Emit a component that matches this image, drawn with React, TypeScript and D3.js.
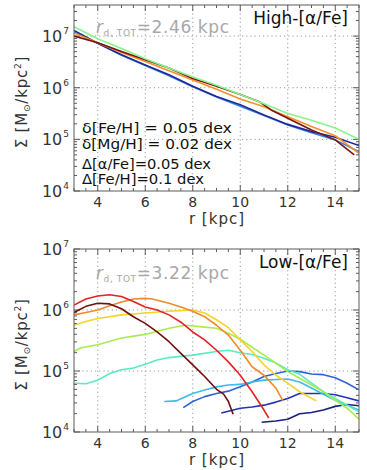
import React from 'react';
import * as d3 from 'd3';

const W = 367;
const H = 470;
const FONT = 'DejaVu Sans, Liberation Sans, sans-serif';

const R_DOMAIN: [number, number] = [3, 15];
const R_TICKS = [4, 6, 8, 10, 12, 14];
const R_MINOR = d3.range(3, 15.01, 0.5);

// ---- High-[α/Fe] panel, log10 Σ vs r
const HIGH_R = [3, 4, 5, 6, 7, 8, 9, 10, 11, 12, 13, 14, 15];
const highGreen = [7.18, 6.95, 6.76, 6.56, 6.38, 6.21, 6.05, 5.87, 5.69, 5.5, 5.37, 5.22, 5.0];
const highDarkBlue = [7.11, 6.86, 6.64, 6.44, 6.25, 6.03, 5.83, 5.67, 5.47, 5.29, 5.15, 5.04, 4.88];
const highBlue = [7.08, 6.86, 6.63, 6.43, 6.23, 6.02, 5.82, 5.64, 5.46, 5.28, 5.13, 4.99, 4.76];
const highOrange = [7.06, 6.87, 6.68, 6.51, 6.33, 6.15, 5.97, 5.78, 5.63, 5.44, 5.25, 5.07, 4.73];
const MAROON_R = [3, 4, 5, 6, 7, 8, 9, 10, 10.8, 11.3, 12, 13, 14, 14.8];
const highMaroon = [7.0, 6.87, 6.7, 6.54, 6.38, 6.18, 6.03, 5.87, 5.73, 5.57, 5.41, 5.18, 4.99, 4.7];

// ---- Low-[α/Fe] panel
const lowMaroonR = [3, 3.5, 4, 4.5, 5, 5.5, 6, 6.5, 7, 7.5, 8, 8.5, 9, 9.3, 9.5, 9.7];
const lowMaroon = [5.96, 6.06, 6.11, 6.1, 6.02, 5.89, 5.78, 5.64, 5.48, 5.29, 5.1, 4.91, 4.7, 4.62, 4.5, 4.29];
const lowRedR = [3, 3.5, 4, 4.5, 5, 5.5, 6, 6.5, 7, 7.5, 8, 8.5, 9, 9.5, 10, 10.5, 11, 11.2];
const lowRed = [6.08, 6.18, 6.23, 6.25, 6.22, 6.14, 6.05, 6.0, 5.92, 5.8, 5.64, 5.51, 5.34, 5.15, 4.93, 4.66, 4.36, 4.23];
const lowOrangeR = [3, 3.5, 4, 4.5, 5, 5.5, 6, 6.3, 7, 7.5, 8, 8.5, 9, 9.5, 10, 10.5, 11, 11.5, 11.8];
const lowOrange = [5.92, 5.96, 6.0, 6.07, 6.13, 6.18, 6.19, 6.18, 6.11, 6.05, 5.98, 5.89, 5.75, 5.59, 5.34, 5.07, 4.93, 4.72, 4.51];
const lowYellowR = [3, 3.5, 4, 5, 6, 7, 8, 8.5, 9, 9.5, 10, 10.5, 11, 11.5, 12, 12.5, 13.2];
const lowYellow = [5.75, 5.81, 5.86, 5.92, 5.95, 5.98, 6.0, 5.95, 5.84, 5.71, 5.51, 5.32, 5.1, 4.93, 4.8, 4.66, 4.51];
const lowLimeR = [3, 3.3, 4, 5, 6, 7, 7.7, 8.5, 9, 9.5, 10, 10.5, 11, 11.5, 12, 12.5, 13, 13.5, 14, 14.5, 15];
const lowLime = [5.32, 5.38, 5.43, 5.54, 5.6, 5.7, 5.75, 5.72, 5.7, 5.62, 5.52, 5.39, 5.26, 5.13, 4.99, 4.88, 4.77, 4.66, 4.52, 4.39, 4.21];
const lowAquaR = [3, 3.5, 4, 4.5, 5, 5.5, 6, 6.5, 7, 8, 9, 9.5, 10, 10.5, 11, 11.5, 12, 12.5, 13, 13.5, 14, 14.5, 15];
const lowAqua = [4.8, 4.79, 4.85, 4.96, 5.02, 5.05, 5.11, 5.18, 5.22, 5.26, 5.32, 5.34, 5.3, 5.27, 5.21, 5.13, 5.02, 4.95, 4.8, 4.66, 4.55, 4.44, 4.33];
const lowSkyR = [6.8, 7.3, 7.6, 8, 8.5, 9, 9.5, 10, 10.5, 11, 11.5, 12, 12.5, 13, 13.5, 14, 14.5, 15];
const lowSky = [4.5, 4.51, 4.56, 4.63, 4.69, 4.74, 4.77, 4.78, 4.82, 4.85, 4.86, 4.87, 4.82, 4.72, 4.62, 4.52, 4.44, 4.36];
const lowBlueR = [7.6, 8, 8.5, 9, 9.5, 10, 10.5, 11, 11.5, 12, 12.5, 13, 13.5, 14, 14.5, 15];
const lowBlue = [4.4, 4.5, 4.58, 4.63, 4.67, 4.74, 4.82, 4.91, 4.96, 5.0, 4.99, 4.95, 4.94, 4.89, 4.8, 4.69];
const lowNavyR = [9.2, 9.5, 10, 10.5, 11, 11.5, 12, 12.5, 13, 13.5, 14, 14.5, 15];
const lowNavy = [4.31, 4.34, 4.39, 4.41, 4.44, 4.49, 4.55, 4.63, 4.63, 4.63, 4.61, 4.56, 4.51];
const lowDeepR = [10.9, 11.5, 12, 12.5, 13, 13.5, 14, 14.5, 15];
const lowDeep = [4.16, 4.18, 4.21, 4.3, 4.32, 4.36, 4.42, 4.45, 4.43];

const zip = (rs: number[], vs: number[]) => rs.map((r, i) => [r, vs[i]] as [number, number]);

const HIGH_SERIES = [
  { pts: zip(HIGH_R, highBlue), color: '#3a86e8' },
  { pts: zip(HIGH_R, highDarkBlue), color: '#1f2a9a' },
  { pts: zip(HIGH_R, highOrange), color: '#f5902a' },
  { pts: zip(MAROON_R, highMaroon), color: '#7a1410' },
  { pts: zip(HIGH_R, highGreen), color: '#86f58a' },
];

const LOW_SERIES = [
  { pts: zip(lowDeepR, lowDeep), color: '#1a1f80' },
  { pts: zip(lowNavyR, lowNavy), color: '#2432b8' },
  { pts: zip(lowBlueR, lowBlue), color: '#2f62d8' },
  { pts: zip(lowSkyR, lowSky), color: '#3cbce8' },
  { pts: zip(lowAquaR, lowAqua), color: '#58ecc0' },
  { pts: zip(lowLimeR, lowLime), color: '#a8ec50' },
  { pts: zip(lowYellowR, lowYellow), color: '#f6d22a' },
  { pts: zip(lowOrangeR, lowOrange), color: '#f08a2a' },
  { pts: zip(lowRedR, lowRed), color: '#e42222' },
  { pts: zip(lowMaroonR, lowMaroon), color: '#6e1010' },
];

type PanelProps = {
  id: string;
  top: number;
  bottom: number;
  yDomain: [number, number];
  series: { pts: [number, number][]; color: string }[];
  title: string;
  rd: string;
  rdY: number;
  children?: React.ReactNode;
};

function Panel({ id, top, bottom, yDomain, series, title, rd, rdY, children }: PanelProps) {
  const left = 74;
  const right = 359;
  const x = d3.scaleLinear().domain(R_DOMAIN).range([left, right]);
  const y = d3.scaleLog().domain(yDomain).range([bottom, top]);
  const line = d3
    .line<[number, number]>()
    .x((d) => x(d[0]))
    .y((d) => y(Math.pow(10, d[1])));

  const decades = [4, 5, 6, 7].filter((e) => Math.pow(10, e) >= yDomain[0] && Math.pow(10, e) <= yDomain[1] * 1.0001);
  const minorY: number[] = [];
  for (let e = 4; e <= 7; e++) {
    for (let k = 2; k <= 9; k++) {
      const v = k * Math.pow(10, e);
      if (v > yDomain[0] && v < yDomain[1]) minorY.push(v);
    }
  }
  const axisColor = '#5a5a5a';
  const gridColor = '#9a9a9a';

  return (
    <g>
      <defs>
        <clipPath id={id}>
          <rect x={left} y={top} width={right - left} height={bottom - top} />
        </clipPath>
      </defs>
      {/* grid */}
      {R_TICKS.map((t) => (
        <line key={'gx' + t} x1={x(t)} x2={x(t)} y1={top} y2={bottom} stroke={gridColor} strokeWidth={1} strokeDasharray="1.2,3" />
      ))}
      {decades
        .filter((e) => y(Math.pow(10, e)) > top + 1 && y(Math.pow(10, e)) < bottom - 1)
        .map((e) => (
          <line key={'gy' + e} x1={left} x2={right} y1={y(Math.pow(10, e))} y2={y(Math.pow(10, e))} stroke={gridColor} strokeWidth={1} strokeDasharray="1.2,3" />
        ))}
      {/* ticks */}
      {R_MINOR.map((t) => {
        const len = R_TICKS.includes(t) ? 6 : 3;
        return (
          <g key={'tx' + t}>
            <line x1={x(t)} x2={x(t)} y1={bottom} y2={bottom - len} stroke={axisColor} />
            <line x1={x(t)} x2={x(t)} y1={top} y2={top + len} stroke={axisColor} />
          </g>
        );
      })}
      {minorY.map((v) => (
        <g key={'ty' + v}>
          <line x1={left} x2={left + 3} y1={y(v)} y2={y(v)} stroke={axisColor} />
          <line x1={right} x2={right - 3} y1={y(v)} y2={y(v)} stroke={axisColor} />
        </g>
      ))}
      {decades.map((e) => (
        <g key={'tyM' + e}>
          <line x1={left} x2={left + 6} y1={y(Math.pow(10, e))} y2={y(Math.pow(10, e))} stroke={axisColor} />
          <line x1={right} x2={right - 6} y1={y(Math.pow(10, e))} y2={y(Math.pow(10, e))} stroke={axisColor} />
        </g>
      ))}
      {/* series */}
      <g clipPath={`url(#${id})`}>
        {series.map((s, i) => (
          <path key={i} d={line(s.pts) || ''} fill="none" stroke={s.color} strokeWidth={1.6} strokeLinejoin="round" />
        ))}
      </g>
      <rect x={left} y={top} width={right - left} height={bottom - top} fill="none" stroke={axisColor} strokeWidth={1} />
      {/* tick labels */}
      {R_TICKS.map((t) => (
        <text key={'lx' + t} x={x(t)} y={bottom + 16} textAnchor="middle" fontSize={14} fill="#333" fontFamily={FONT}>
          {t}
        </text>
      ))}
      {decades.map((e) => (
        <text key={'ly' + e} x={69} y={y(Math.pow(10, e)) + 6} textAnchor="end" fontSize={16} fill="#333" fontFamily={FONT}>
          10
          <tspan dx={1} dy={-8} fontSize={9}>
            {e}
          </tspan>
        </text>
      ))}
      {/* axis titles */}
      <text x={217} y={bottom + 33} textAnchor="middle" fontSize={15} letterSpacing={1} fill="#333" fontFamily={FONT}>
        r  [kpc]
      </text>
      <text
        transform={`translate(27,${(top + bottom) / 2 + 4}) rotate(-90)`}
        textAnchor="middle"
        fontSize={15}
        letterSpacing={0.8}
        fill="#333"
        fontFamily={FONT}
      >
        Σ [M
        <tspan fontSize={9} dy={3}>⊙</tspan>
        <tspan dy={-3}>/kpc</tspan>
        <tspan fontSize={9} dy={-6}>2</tspan>
        <tspan dy={6}>]</tspan>
      </text>
      {/* labels */}
      <text x={348} y={top + 19} textAnchor="end" fontSize={17} fill="#111" fontFamily={FONT}>
        {title}
      </text>
      <text x={96} y={rdY} fontSize={17} letterSpacing={0.6} fill="#a8a8a8" fontFamily={FONT}>
        <tspan fontStyle="italic">r</tspan>
        <tspan fontSize={9} dy={3}>d, TOT</tspan>
        <tspan dy={-3}>={rd}  kpc</tspan>
      </text>
      {children}
    </g>
  );
}

export default function App() {
  return (
    <div style={{ position: 'absolute', left: 0, top: 0, width: W, height: H, background: '#fff' }}>
      <svg width={W} height={H} viewBox={`0 0 ${W} ${H}`} style={{ display: 'block' }}>
        <rect width={W} height={H} fill="#fff" />
        <Panel id="clipHigh" top={5} bottom={191} yDomain={[1e4, 4e7]} series={HIGH_SERIES} title="High-[α/Fe]" rd="2.46" rdY={33}>
          <g fontFamily={FONT} fontSize={14} fill="#111">
            <text x={82} y={133} textLength={150} lengthAdjust="spacingAndGlyphs">δ[Fe/H] = 0.05 dex</text>
            <text x={82} y={149} textLength={150} lengthAdjust="spacingAndGlyphs">δ[Mg/H] = 0.02 dex</text>
            <text x={82} y={169} textLength={129} lengthAdjust="spacingAndGlyphs">Δ[α/Fe]=0.05 dex</text>
            <text x={82} y={184} textLength={122} lengthAdjust="spacingAndGlyphs">Δ[Fe/H]=0.1 dex</text>
          </g>
        </Panel>
        <Panel id="clipLow" top={249} bottom={432} yDomain={[1e4, 1e7]} series={LOW_SERIES} title="Low-[α/Fe]" rd="3.22" rdY={279} />
      </svg>
    </div>
  );
}
